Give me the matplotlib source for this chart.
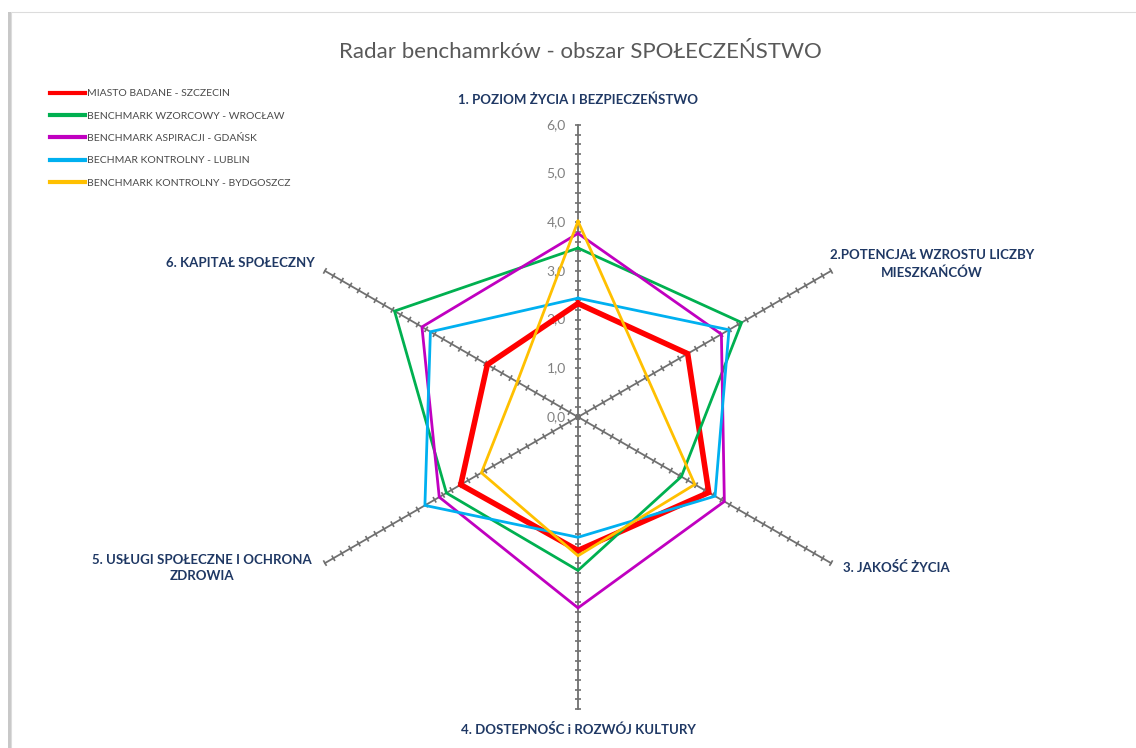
import numpy as np
import matplotlib
matplotlib.use("Agg")
import matplotlib.pyplot as plt
from matplotlib.collections import LineCollection
from matplotlib.lines import Line2D
from matplotlib.patches import Rectangle

plt.rcParams['font.family'] = ['Lato', 'DejaVu Sans']

# Data (axes clockwise from top)
categories = ["1. POZIOM ŻYCIA I BEZPIECZEŃSTWO",
              "2.POTENCJAŁ WZROSTU LICZBY\nMIESZKAŃCÓW",
              "3. JAKOŚĆ ŻYCIA",
              "4. DOSTEPNOŚC i ROZWÓJ KULTURY",
              "5. USŁUGI SPOŁECZNE I OCHRONA\nZDROWIA",
              "6. KAPITAŁ SPOŁECZNY"]
series_names = ["MIASTO BADANE - SZCZECIN",
                "BENCHMARK WZORCOWY - WROCŁAW",
                "BENCHMARK ASPIRACJI - GDAŃSK",
                "BECHMAR KONTROLNY - LUBLIN",
                "BENCHMARK KONTROLNY - BYDGOSZCZ"]
szczecin = [2.33, 2.60, 3.10, 2.74, 2.78, 2.15]
wroclaw = [3.47, 3.88, 2.45, 3.15, 3.12, 4.35]
gdansk = [3.77, 3.40, 3.47, 3.92, 3.29, 3.70]
lublin = [2.44, 3.58, 3.25, 2.47, 3.63, 3.50]
bydgoszcz = [4.02, 1.64, 2.77, 2.85, 2.29, 1.44]
tick_labels = ["0,0", "1,0", "2,0", "3,0", "4,0", "5,0", "6,0"]

colors = ["#ff0000", "#00b050", "#c000c0", "#00b0f0", "#ffc000"]
widths = [4.0, 2.0, 2.0, 2.0, 2.0]
all_series = [szczecin, wroclaw, gdansk, lublin, bydgoszcz]

W, H = 1136, 748
cx, cy = 578, 417     # centre in pixels (from top)
s = 48.7              # pixels per unit
rmax = 6.0

fig = plt.figure(figsize=(W / 100, H / 100), dpi=100)
fig.patch.set_facecolor("white")

# chart frame with a soft shadow
fig.patches.append(Rectangle((8 / W, -0.1), 3 / W, 1.1 - 12 / H, transform=fig.transFigure,
                             facecolor="#c8c8c8", edgecolor="none", zorder=-2))
fig.patches.append(Rectangle((11 / W, -0.1), 1.2, 1.1 - 12 / H, transform=fig.transFigure,
                             facecolor="white", edgecolor="#dcdcdc", lw=0.8, zorder=-1))

ax = fig.add_axes([0, 0, 1, 1])
ax.set_zorder(1)
ax.set_xlim(-cx / s, (W - cx) / s)
ax.set_ylim(-(H - cy) / s, cy / s)
ax.axis("off")
ax.patch.set_alpha(0)

n = len(categories)
theta = np.arange(n) * 2 * np.pi / n  # clockwise from top

# spokes and tick marks
segs = []
for t in theta:
    ux, uy = np.sin(t), np.cos(t)
    px, py = -uy, ux
    ax.plot([0, rmax * ux], [0, rmax * uy], color="#707070", lw=1.3, zorder=1)
    for r in np.arange(0, rmax + 0.01, 0.2):
        h = 0.065
        segs.append([(r * ux - h * px, r * uy - h * py), (r * ux + h * px, r * uy + h * py)])
ax.add_collection(LineCollection(segs, colors="#707070", linewidths=1.2, zorder=1))

for i, lab in enumerate(tick_labels):
    ax.text(-0.25, float(i), lab, ha="right", va="center", fontsize=10, color="#808080", zorder=2)

# series
for vals, c, w in zip(all_series, colors, widths):
    v = np.array(vals + vals[:1])
    tt = np.append(theta, theta[0])
    ax.plot(v * np.sin(tt), v * np.cos(tt), color=c, lw=w, solid_joinstyle="miter", zorder=3)

def fpos(x, y):
    return x / W, 1 - y / H

lab_kw = dict(fontsize=9.5, fontweight="bold", color="#1f3864", zorder=5)
fig.text(*fpos(578, 100), categories[0], ha="center", va="center", **lab_kw)
fig.text(*fpos(932, 264), categories[1], ha="center", va="center", linespacing=1.5, **lab_kw)
fig.text(*fpos(843, 568), categories[2], ha="left", va="center", **lab_kw)
fig.text(*fpos(578, 730), categories[3], ha="center", va="center", **lab_kw)
fig.text(*fpos(202, 568), categories[4], ha="center", va="center", linespacing=1.5, **lab_kw)
fig.text(*fpos(315, 263), categories[5], ha="right", va="center", **lab_kw)

fig.text(*fpos(580, 52), "Radar benchamrków - obszar SPOŁECZEŃSTWO", ha="center", va="center",
         fontsize=16, color="#595959", zorder=5)

# legend
handles = [Line2D([], [], color=c, lw=3) for c in colors]
leg = fig.legend(handles, series_names, loc="upper left", bbox_to_anchor=fpos(50, 89),
                 frameon=False, fontsize=7.5, labelcolor="#4a4a4a", handlelength=3.4,
                 handletextpad=0.15, labelspacing=1.25, borderpad=0, borderaxespad=0)
leg.set_zorder(5)

fig.savefig("out.png", dpi=100, facecolor="white")
